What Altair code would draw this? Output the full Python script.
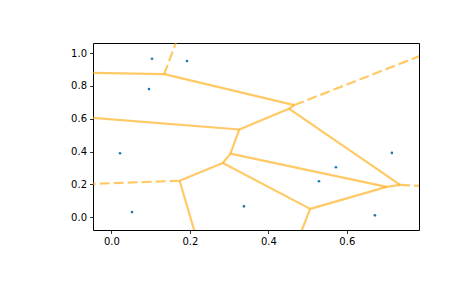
import itertools
import numpy as np
import pandas as pd
import altair as alt

# Generator points
pt_x = [0.1034, 0.1926, 0.0958, 0.0219, 0.0525, 0.3378, 0.7149, 0.5722, 0.5289, 0.6716]
pt_y = [0.9652, 0.9512, 0.7805, 0.3902, 0.0320, 0.0671, 0.3921, 0.3049, 0.2195, 0.0122]

x_limits = [-0.047, 0.784]
y_limits = [-0.077, 1.061]
x_ticks = [0.0, 0.2, 0.4, 0.6]
y_ticks = [0.0, 0.2, 0.4, 0.6, 0.8, 1.0]

# ---- Voronoi diagram computed from the points (Delaunay by empty circumcircle) ----
pts = np.column_stack([pt_x, pt_y])
n = len(pts)
tris, centers = [], []
for i, j, k in itertools.combinations(range(n), 3):
    a, b, c = pts[i], pts[j], pts[k]
    d = 2 * (a[0] * (b[1] - c[1]) + b[0] * (c[1] - a[1]) + c[0] * (a[1] - b[1]))
    if abs(d) < 1e-12:
        continue
    ux = ((a @ a) * (b[1] - c[1]) + (b @ b) * (c[1] - a[1]) + (c @ c) * (a[1] - b[1])) / d
    uy = ((a @ a) * (c[0] - b[0]) + (b @ b) * (a[0] - c[0]) + (c @ c) * (b[0] - a[0])) / d
    u = np.array([ux, uy])
    r2 = ((a - u) ** 2).sum()
    ok = all(((pts[m] - u) ** 2).sum() > r2 * (1 + 1e-9) for m in range(n) if m not in (i, j, k))
    if ok:
        tris.append((i, j, k))
        centers.append(u)

edge_tris = {}
for t, (i, j, k) in enumerate(tris):
    for p, q in ((i, j), (j, k), (i, k)):
        edge_tris.setdefault(tuple(sorted((p, q))), []).append(t)

center = pts.mean(axis=0)
ptp = np.ptp(pts, axis=0)
rows = []
for (p, q), ts in edge_tris.items():
    if len(ts) == 2:
        v0, v1 = centers[ts[0]], centers[ts[1]]
        rows.append(dict(x=v0[0], y=v0[1], x2=v1[0], y2=v1[1], kind="finite"))
    else:
        v = centers[ts[0]]
        t = pts[q] - pts[p]
        t = t / np.linalg.norm(t)
        nrm = np.array([-t[1], t[0]])
        mid = pts[[p, q]].mean(axis=0)
        direction = np.sign(np.dot(mid - center, nrm)) * nrm
        far = v + direction * ptp.max() * abs(ptp.max() / ptp.min())
        rows.append(dict(x=v[0], y=v[1], x2=far[0], y2=far[1], kind="infinite"))
seg = pd.DataFrame(rows)
pdf = pd.DataFrame({"x": pt_x, "y": pt_y})

xs = alt.Scale(domain=x_limits, nice=False, zero=False)
ys = alt.Scale(domain=y_limits, nice=False, zero=False)
axis_common = dict(
    grid=False, domain=False, tickColor="black", tickSize=3.5, tickWidth=0.8,
    labelFont="DejaVu Sans", labelFontSize=10, labelColor="black", labelPadding=3,
    labelOverlap=False, labelBound=False, labelFlush=False, title=None, format=".1f",
)
xax = alt.Axis(values=x_ticks, **axis_common)
yax = alt.Axis(values=y_ticks, **axis_common)
X = alt.X("x:Q", scale=xs, axis=xax)
Y = alt.Y("y:Q", scale=ys, axis=yax)

solid = alt.Chart(seg).transform_filter(alt.datum.kind == "finite").mark_rule(
    color="#FFA500", opacity=0.6, strokeWidth=2.2, clip=True
).encode(x=X, y=Y, x2="x2:Q", y2="y2:Q")
dashed = alt.Chart(seg).transform_filter(alt.datum.kind == "infinite").mark_rule(
    color="#FFA500", opacity=0.6, strokeWidth=2.2, strokeDash=[10, 4], clip=True
).encode(x=X, y=Y, x2="x2:Q", y2="y2:Q")
points = alt.Chart(pdf).mark_point(
    filled=True, size=7, color="#1f77b4", opacity=1, clip=True
).encode(x=X, y=Y)

chart = alt.layer(solid, dashed, points).properties(
    width=326, height=187,
    padding={"left": 93, "top": 43, "right": 46, "bottom": 58},
    autosize=alt.AutoSizeParams(type="none"),
    background="white",
).configure_view(stroke="black", strokeWidth=1)

chart.save("out.html", embed_options={"renderer": "svg", "actions": False})
